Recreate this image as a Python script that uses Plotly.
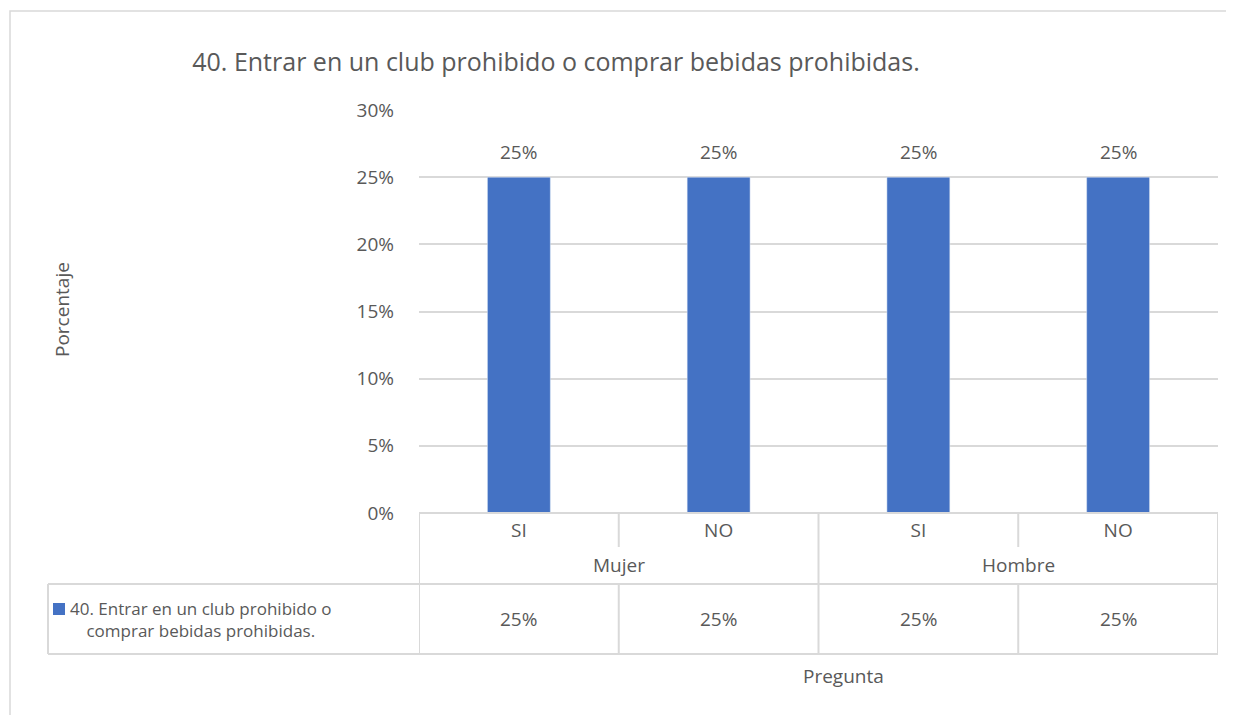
import plotly.graph_objects as go

# dati del grafico
grupos = ["Mujer", "Mujer", "Hombre", "Hombre"]
respuestas = ["SI", "NO", "SI", "NO"]
valores = [0.25, 0.25, 0.25, 0.25]
serie = "40. Entrar en un club prohibido o<br>comprar bebidas prohibidas."
titulo = "40. Entrar en un club prohibido o comprar bebidas prohibidas."
y_ticks = [0, 0.05, 0.10, 0.15, 0.20, 0.25, 0.30]

# la pagina ha un margine di 8px, quindi sposto tutto
OFF = 8
W, H = 1234, 715
L, R, T, B = 419 - OFF, 1234 - (1218 - OFF), 110 - OFF, 715 - (513 - OFF)
ph = H - T - B
pw = W - L - R


def py(px_y):
    # pixel (screenshot) y -> paper y
    return (H - B - (px_y - OFF)) / ph


def px_(px_x):
    return (px_x - OFF - L) / pw


gris = "#d9d9d9"
txt = "#595959"
fuente = "Open Sans"
fs = 19

x = list(range(len(valores)))
fig = go.Figure(go.Bar(
    x=x, y=valores, marker_color="#4472C4", width=0.315, showlegend=False,
))

shapes = []
# bordo esterno del grafico
shapes.append(dict(type="rect", xref="paper", yref="paper",
                   x0=px_(10), x1=px_(1260), y0=py(11), y1=py(740),
                   line=dict(color=gris, width=1.5)))
# tabella dati
line = dict(color=gris, width=2)
for xv in [-0.5, 1.5, 3.5]:
    shapes.append(dict(type="line", xref="x", yref="paper", x0=xv, x1=xv, y0=0, y1=py(654), line=line))
for xv in [0.5, 2.5]:
    shapes.append(dict(type="line", xref="x", yref="paper", x0=xv, x1=xv, y0=0, y1=py(547), line=line))
    shapes.append(dict(type="line", xref="x", yref="paper", x0=xv, x1=xv, y0=py(584), y1=py(654), line=line))
shapes.append(dict(type="line", xref="paper", yref="paper", x0=0, x1=1, y0=0, y1=0, line=line))
shapes.append(dict(type="line", xref="paper", yref="paper", x0=px_(48), x1=1, y0=py(584), y1=py(584), line=line))
shapes.append(dict(type="line", xref="paper", yref="paper", x0=px_(48), x1=1, y0=py(654), y1=py(654), line=line))
shapes.append(dict(type="line", xref="paper", yref="paper", x0=px_(48), x1=px_(48), y0=py(584), y1=py(654), line=line))
# quadratino della legenda
shapes.append(dict(type="rect", xref="paper", yref="paper", x0=px_(53), x1=px_(65),
                   y0=py(615), y1=py(603), fillcolor="#4472C4", line=dict(width=0)))

ann = []
# etichette sopra le barre
for i, v in enumerate(valores):
    ann.append(dict(x=i, y=v, xref="x", yref="y", text=f"{v:.0%}", yshift=25,
                    yanchor="middle", showarrow=False, font=dict(size=fs, color=txt)))
for g in ["Mujer", "Hombre"]:
    idx = [i for i, gg in enumerate(grupos) if gg == g]
    ann.append(dict(x=sum(idx) / len(idx), y=py(565), xref="x", yref="paper", text=g,
                    yanchor="middle", showarrow=False, font=dict(size=fs, color=txt)))
for i, v in enumerate(valores):
    ann.append(dict(x=i, y=py(619), xref="x", yref="paper", text=f"{v:.0%}",
                    yanchor="middle", showarrow=False, font=dict(size=fs, color=txt)))
ann.append(dict(x=px_(201), y=py(619), xref="paper", yref="paper", text=serie,
                xanchor="center", yanchor="middle",
                showarrow=False, align="center", font=dict(size=17, color=txt)))
ann.append(dict(x=px_(62), y=py(310), xref="paper", yref="paper", text="Porcentaje",
                xanchor="center", yanchor="middle",
                textangle=-90, showarrow=False, font=dict(size=fs, color=txt)))
ann.append(dict(x=px_(843), y=py(676), xref="paper", yref="paper", text="Pregunta",
                xanchor="center", yanchor="middle",
                showarrow=False, font=dict(size=fs, color=txt)))

fig.update_layout(
    width=W, height=H,
    margin=dict(l=L, r=R, t=T, b=B, autoexpand=False),
    paper_bgcolor="white", plot_bgcolor="white",
    font=dict(family=fuente, color=txt),
    title=dict(text=titulo, xref="paper", x=px_(556), xanchor="center",
               yref="container", y=1 - (62 - OFF) / H, yanchor="middle",
               font=dict(size=25, color=txt)),
    shapes=shapes, annotations=ann,
)
fig.update_xaxes(range=[-0.5, 3.5], tickvals=x, ticktext=respuestas,
                 showgrid=False, zeroline=False, showline=False, ticks="",
                 tickfont=dict(size=fs, color=txt), ticklabelstandoff=4)
fig.update_yaxes(range=[0, 0.30], tickvals=y_ticks, tickformat=".0%",
                 showgrid=True, gridcolor=gris, gridwidth=1.5, zeroline=False,
                 tickfont=dict(size=fs, color=txt), ticks="", ticklabelstandoff=24)

fig.write_html("out.html")
